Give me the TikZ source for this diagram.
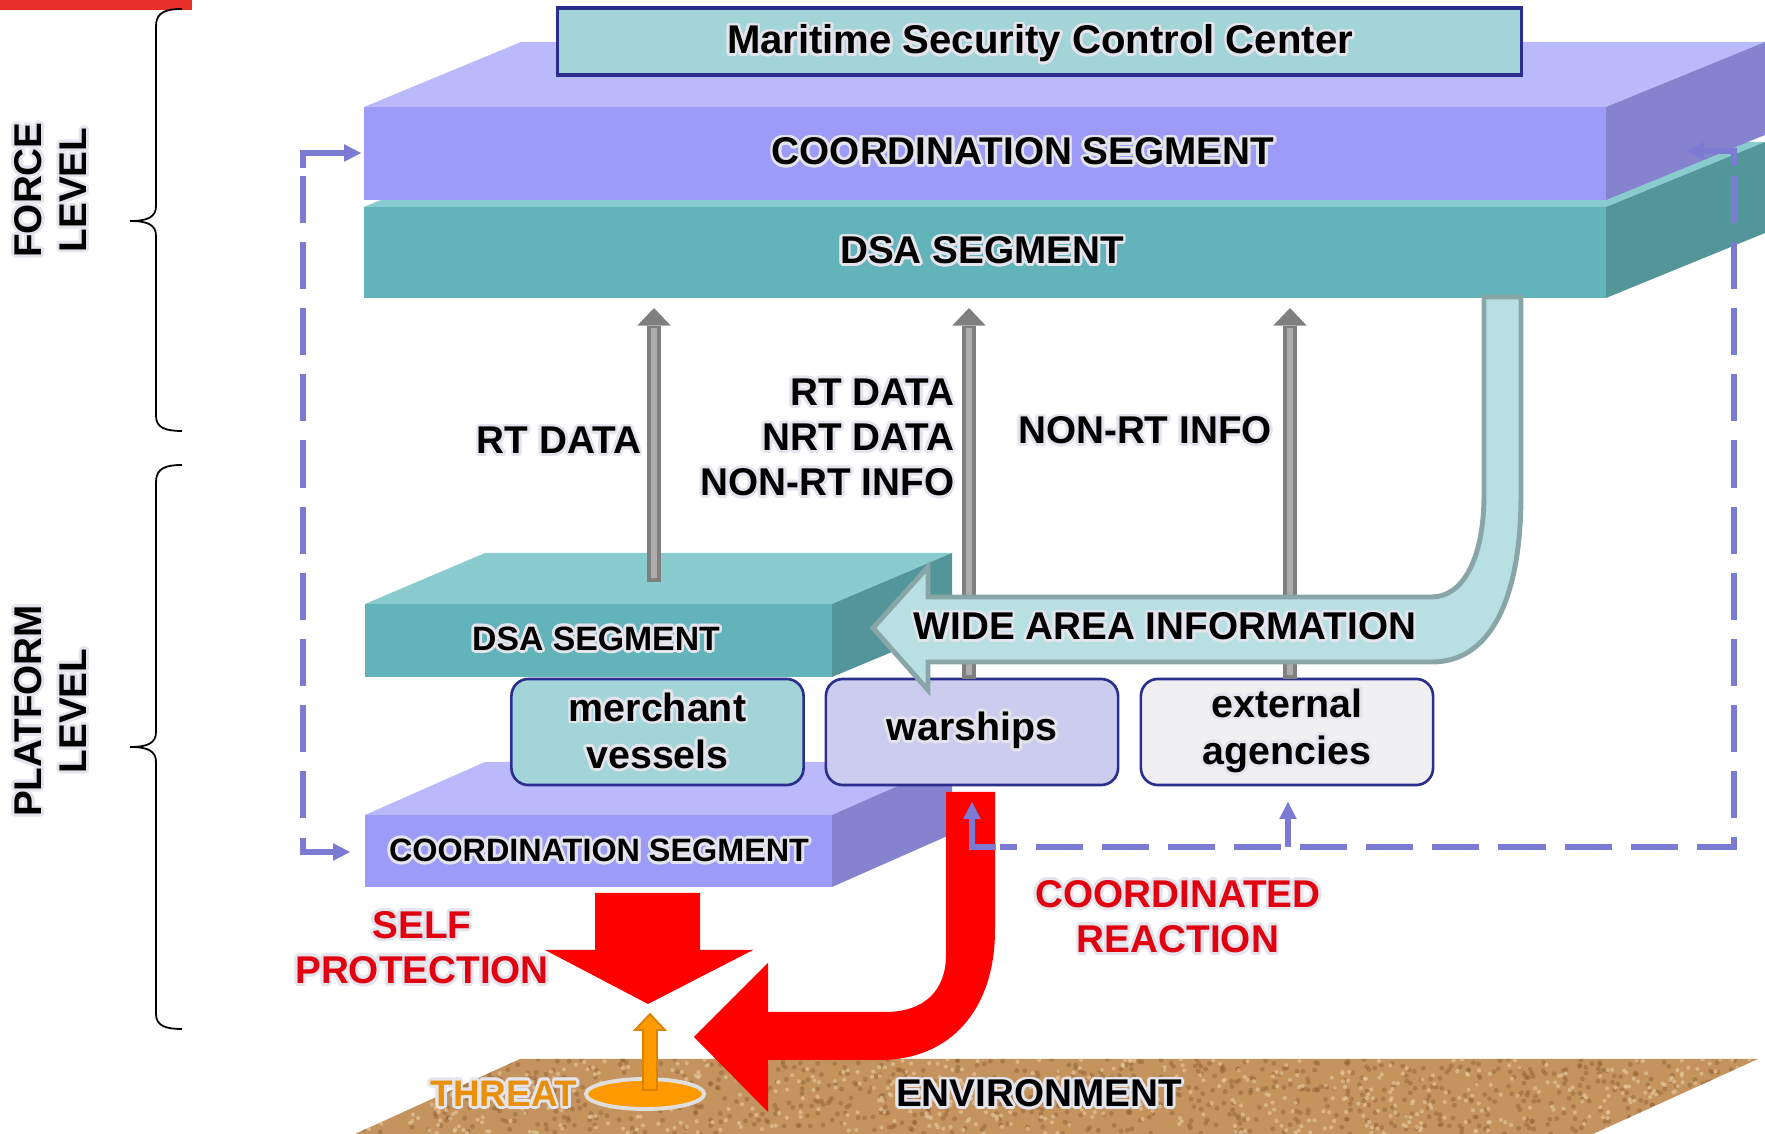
\documentclass[tikz,border=0pt]{standalone}
\usepackage{fontspec}
\setmainfont{Liberation Sans}
\usepackage[copies]{contour}
\contourlength{0.8pt}
\usetikzlibrary{arrows.meta}
\definecolor{coordF}{HTML}{9C9CF8}
\definecolor{coordT}{HTML}{B9B9FC}
\definecolor{coordR}{HTML}{8583CE}
\definecolor{dsaF}{HTML}{62B3BA}
\definecolor{dsaT}{HTML}{8ACBD0}
\definecolor{dsaR}{HTML}{539699}
\definecolor{mscF}{HTML}{A2D4D8}
\definecolor{navy}{HTML}{2B2E8C}
\definecolor{merchF}{HTML}{A2D4D8}
\definecolor{warF}{HTML}{CCCCEE}
\definecolor{extF}{HTML}{F0F0F3}
\definecolor{gdark}{HTML}{7F7F7F}
\definecolor{glight}{HTML}{ADADAD}
\definecolor{waiF}{HTML}{B8DFE2}
\definecolor{waiB}{HTML}{88A6A8}
\definecolor{dashc}{HTML}{7B7BD4}
\definecolor{redA}{HTML}{FF0000}
\definecolor{redT}{HTML}{E00010}
\definecolor{orangeA}{HTML}{FF9900}
\definecolor{orangeD}{HTML}{D98200}
\definecolor{threatT}{HTML}{E8900A}
\definecolor{sand}{HTML}{C4935E}
\definecolor{sandD}{HTML}{8E5E30}
\definecolor{sandL}{HTML}{E8CBA0}
\definecolor{redbar}{HTML}{E8302A}
\definecolor{halo}{HTML}{E4E4EC}
\newcommand{\halo}[1]{\contour{halo}{#1}}
\begin{document}
\begin{tikzpicture}[x=0.01cm, y=-0.01cm,
  lbl/.style={font=\fontsize{11}{12.8}\selectfont\bfseries, inner sep=0pt, align=center},
  box/.style={draw=navy, line width=0.75pt, rounded corners=0.17cm, minimum width=2.92cm, minimum height=1.06cm, inner sep=0pt, align=center, font=\fontsize{11.2}{13.4}\selectfont\bfseries},
  garrow/.style={draw=gdark, line width=4pt, -{Triangle[length=5pt,width=9.5pt,line width=0pt]}},
  gstripe/.style={draw=glight, line width=1.5pt, shorten >=5.6pt, shorten <=1.2pt},
  dashp/.style={draw=dashc, line width=1.7pt, dash pattern=on 13.4pt off 5.4pt},
  stubp/.style={draw=dashc, line width=1.7pt, -{Triangle[length=4.8pt,width=5pt,line width=0pt]}},
]
\useasboundingbox (0,0) rectangle (1765,1134);

% red bar
\fill[redbar] (0,0) rectangle (192,10);

% braces
\draw[line width=0.5pt] (182,9) .. controls (166,9) and (156,12) .. (156,26) -- (156,206) .. controls (156,217) and (148,221) .. (130,221) .. controls (148,221) and (156,225) .. (156,236) -- (156,416) .. controls (156,428) and (166,431) .. (182,431);
\draw[line width=0.5pt] (182,465) .. controls (166,465) and (156,468) .. (156,482) -- (156,732) .. controls (156,743) and (148,747) .. (130,747) .. controls (148,747) and (156,751) .. (156,762) -- (156,1014) .. controls (156,1026) and (166,1029) .. (182,1029);
\node (force) [lbl, rotate=90] at (52,190) {\halo{FORCE}\\\halo{LEVEL}};
\node (platform) [lbl, rotate=90] at (52,711) {\halo{PLATFORM}\\\halo{LEVEL}};

% ground
\fill[sand] (355,1134) -- (520,1059) -- (1758,1059) -- (1593,1134) -- cycle;
\begin{scope}
\clip (355,1134) -- (520,1059) -- (1758,1059) -- (1593,1134) -- cycle;
\pgfmathsetseed{7}
\foreach \i in {1,...,900}{
  \pgfmathsetmacro{\ty}{1059+75*rnd}
  \pgfmathsetmacro{\tx}{355+1403*rnd}
  \fill[sandD,opacity=.45] (\tx,\ty) circle (0.7pt);
}
\foreach \i in {1,...,700}{
  \pgfmathsetmacro{\ty}{1059+75*rnd}
  \pgfmathsetmacro{\tx}{355+1403*rnd}
  \fill[sandL,opacity=.6] (\tx,\ty) circle (0.6pt);
}
\end{scope}

% top DSA slab
\fill[dsaT] (364,207) -- (521,142) -- (1765,142) -- (1606,207) -- cycle;
\fill[dsaR] (1606,207) -- (1765,142) -- (1765,233) -- (1606,298) -- cycle;
\fill[dsaF] (364,207) rectangle (1606,298);
% top coordination slab
\fill[coordT] (364,107) -- (521,42) -- (1765,42) -- (1606,107) -- cycle;
\fill[coordR] (1606,107) -- (1765,42) -- (1765,135) -- (1606,200) -- cycle;
\fill[coordF] (364,107) rectangle (1606,200);
\node (tcoord) [lbl] at (1023,153) {\halo{COORDINATION SEGMENT}};
\node (tdsa) [lbl] at (982,252) {\halo{DSA SEGMENT}};

% maritime box
\node (msc) [draw=navy, line width=0.9pt, fill=mscF, minimum width=9.63cm, minimum height=0.67cm, inner sep=0pt] at (1039.5,41.5) {};
\node (msct) [lbl, font=\fontsize{11.4}{13}\selectfont\bfseries] at (1040,45) {\halo{Maritime Security Control Center}};

% lower coordination slab
\fill[coordT] (365,815) -- (485,762) -- (952,762) -- (832,815) -- cycle;
\fill[coordR] (832,815) -- (952,762) -- (952,834) -- (832,887) -- cycle;
\fill[coordF] (365,815) rectangle (832,887);
\node (lcoord) [lbl, font=\fontsize{9.2}{11}\selectfont\bfseries] at (599,852) {\halo{COORDINATION SEGMENT}};

% lower DSA slab
\fill[dsaT] (365,604) -- (485,553) -- (952,553) -- (832,604) -- cycle;
\fill[dsaR] (832,604) -- (952,553) -- (952,627) -- (832,677) -- cycle;
\fill[dsaF] (365,604) rectangle (832,677);
\node (ldsa) [lbl, font=\fontsize{9.6}{11}\selectfont\bfseries] at (596,640) {\halo{DSA SEGMENT}};

% boxes
\node (merch) [box, fill=merchF] at (657.5,732) {\halo{merchant}\\\halo{vessels}};
\node (war) [box, fill=warF] at (972,732) {\halo{warships}};
\node (ext) [box, fill=extF] at (1287,732) {\halo{external}\\\halo{agencies}};

% gray arrows
\coordinate (a1s) at (654,582); \coordinate (a1e) at (654,308);
\coordinate (a2s) at (969,679); \coordinate (a2e) at (969,308);
\coordinate (a3s) at (1290,679); \coordinate (a3e) at (1290,308);
\foreach \s/\e in {a1s/a1e, a2s/a2e, a3s/a3e}{
  \draw[garrow] (\s) -- (\e);
  \draw[gstripe] (\s) -- (\e);
}
\node (lrt) [lbl] at (559,442) {\halo{RT DATA}};
\node (lmix) [lbl, align=right, anchor=east] at (955,439) {\halo{RT DATA}\\\halo{NRT DATA}\\\halo{NON-RT INFO}};
\node (lnrt) [lbl] at (1145,432) {\halo{NON-RT INFO}};

% wide area information arrow
\draw[fill=waiF, draw=waiB, line width=1.4pt, line join=miter] (873,628) -- (928,567) -- (928,597) -- (1432,597) .. controls (1462,597) and (1484,560) .. (1484,495) -- (1484,297) -- (1521,297) -- (1521,495) .. controls (1521,600) and (1490,662) .. (1432,662) -- (928,662) -- (928,690) -- cycle;
\node (wai) [lbl] at (1165,628) {\halo{WIDE AREA INFORMATION}};

% red arrows
\fill[redA] (595,893) -- (700,893) -- (700,950) -- (753,950) -- (648,1004) -- (545,950) -- (595,950) -- cycle;
\fill[redA] (946,792) -- (995,792) -- (995,930) .. controls (995,1010) and (950,1060) .. (880,1060) -- (768,1060) -- (768,1112) -- (694,1037) -- (768,963) -- (768,1012) -- (885,1012) .. controls (925,1012) and (946,990) .. (946,955) -- cycle;
\node (self) [lbl, text=redT] at (422,949) {\halo{SELF}\\\halo{PROTECTION}};
\node (coreact) [lbl, text=redT] at (1178,918) {\halo{COORDINATED}\\\halo{REACTION}};

% threat
\draw[fill=orangeA, draw=gray!25, line width=1.1pt] (645,1094) ellipse [x radius=0.59cm, y radius=0.15cm];
\draw[fill=orangeA, draw=orangeD, line width=0.5pt] (643,1090) -- (643,1030) -- (635,1030) -- (650,1014) -- (665,1030) -- (657,1030) -- (657,1090) -- cycle;
\node (threat) [lbl, text=threatT, font=\fontsize{10.5}{12}\selectfont\bfseries] at (504,1095) {\halo{THREAT}};
\node (env) [lbl] at (1039,1095) {\halo{ENVIRONMENT}};

% dashed feedback lines
\coordinate (ltop) at (303,153); \coordinate (lbot) at (303,852);
\coordinate (ctopin) at (361,153); \coordinate (cbotin) at (350,852);
\draw[dashp] (303,176) -- (303,832);
\draw[stubp] (303,168) -- (ltop) -- (ctopin);
\draw[stubp] (303,838) -- (lbot) -- (cbotin);

\coordinate (rtop) at (1734,151); \coordinate (rbot) at (1734,847);
\coordinate (ctopout) at (1687,151);
\coordinate (wcorner) at (972,847); \coordinate (wtip) at (972,802);
\coordinate (ebranch) at (1288,847); \coordinate (etip) at (1288,802);
\draw[dashp] (1734,176) -- (rbot) -- (1000,847);
\draw[stubp] (1734,166) -- (rtop) -- (ctopout);
\draw[stubp] (996,847) -- (wcorner) -- (wtip);
\draw[stubp] (ebranch) -- (etip);
\end{tikzpicture}
\end{document}
